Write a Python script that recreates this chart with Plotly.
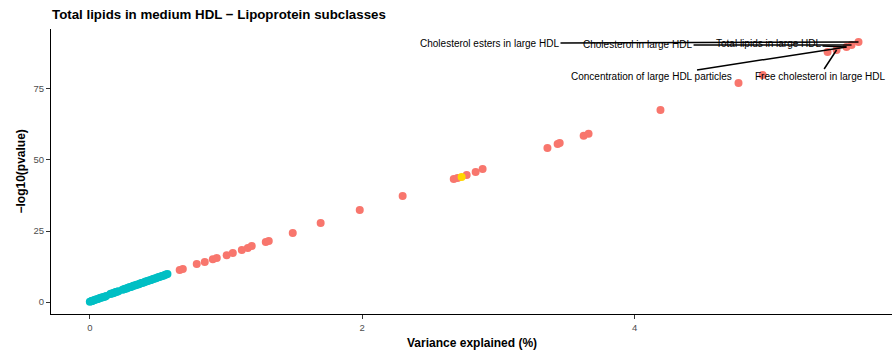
import plotly.graph_objects as go

# ---- data ----
teal_x = [0.00, 0.01, 0.015, 0.02, 0.03, 0.04, 0.05, 0.06, 0.07, 0.08, 0.09, 0.10, 0.11, 0.12,
          0.15, 0.16, 0.17, 0.18, 0.19, 0.20, 0.21,
          0.24, 0.25, 0.26, 0.27, 0.28, 0.29, 0.30, 0.31, 0.32, 0.33, 0.34, 0.35, 0.36, 0.37,
          0.38, 0.39, 0.40, 0.41, 0.42, 0.43, 0.44, 0.45, 0.46, 0.47, 0.48, 0.49, 0.50, 0.51,
          0.52, 0.53, 0.54, 0.55, 0.56, 0.57]
teal_y = [0.1, 0.3, 0.4, 0.5, 0.6, 0.8, 1.0, 1.1, 1.3, 1.5, 1.6, 1.8, 1.9, 2.1,
          2.8, 3.0, 3.1, 3.3, 3.5, 3.6, 3.8,
          4.3, 4.5, 4.7, 4.8, 5.0, 5.2, 5.3, 5.5, 5.7, 5.8, 6.0, 6.2, 6.3, 6.5,
          6.7, 6.8, 7.0, 7.2, 7.3, 7.5, 7.7, 7.8, 8.0, 8.2, 8.3, 8.5, 8.7, 8.8,
          9.0, 9.2, 9.3, 9.5, 9.7, 9.9]

red_x = [0.660, 0.683, 0.785, 0.844, 0.903, 0.932, 1.005, 1.050, 1.116, 1.160, 1.189, 1.292,
         1.314, 1.490, 1.695, 1.982, 2.297, 2.672, 2.700, 2.767, 2.833, 2.884, 3.360, 3.435,
         3.450, 3.626, 3.662, 4.190, 4.763, 4.940, 5.417, 5.483, 5.556, 5.593, 5.644]
red_y = [11.3, 11.6, 13.4, 14.1, 15.1, 15.5, 16.5, 17.3, 18.3, 19.0, 19.7, 21.1,
         21.5, 24.3, 27.8, 32.4, 37.3, 43.3, 43.7, 44.7, 45.8, 46.8, 54.2, 55.6,
         56.0, 58.5, 59.2, 67.6, 77.1, 79.9, 88.0, 88.7, 89.8, 90.5, 91.5]

focus_x = [2.730]
focus_y = [44.0]

label_names = ["Cholesterol esters in large HDL", "Cholesterol in large HDL",
               "Total lipids in large HDL", "Concentration of large HDL particles",
               "Free cholesterol in large HDL"]
label_x = [5.644, 5.593, 5.556, 5.556, 5.483]
label_y = [91.5, 90.5, 89.8, 89.8, 88.7]

x_ticks = [0, 2, 4]
y_ticks = [0, 25, 50, 75]

# ---- layout helpers (pixel offsets of labels from their points) ----
label_offsets = [(-369, 1), (-214, 0), (-78, -3), (-195, 30), (-17, 26)]

RED = "#F8766D"
TEAL = "#00BFC4"
GOLD = "#FFD700"
FONT = "Liberation Sans, Arial"

fig = go.Figure()
for xs, ys, col in [(teal_x, teal_y, TEAL), (red_x, red_y, RED), (focus_x, focus_y, GOLD)]:
    fig.add_trace(go.Scatter(x=xs, y=ys, mode="markers",
                             marker=dict(color=col, size=8, line=dict(width=0)),
                             showlegend=False, hoverinfo="x+y"))

for name, lx, ly, (ox, oy) in zip(label_names, label_x, label_y, label_offsets):
    fig.add_annotation(x=lx, y=ly, xref="x", yref="y", text=name,
                       showarrow=True, arrowhead=0, arrowwidth=1.5, arrowcolor="black",
                       ax=ox, ay=oy, standoff=0, startstandoff=0,
                       font=dict(family=FONT, size=10, color="black"))

# axis titles as paper annotations
fig.add_annotation(text="<b>Variance explained (%)</b>", xref="paper", yref="paper",
                   x=0.5, y=0, yshift=-29, xanchor="center", yanchor="middle", showarrow=False,
                   font=dict(family=FONT, size=12, color="black"))
fig.add_annotation(text="<b>\u2212log10(pvalue)</b>", xref="paper", yref="paper",
                   x=0, y=0.5, xshift=-31, xanchor="center", yanchor="middle", showarrow=False,
                   textangle=-90, font=dict(family=FONT, size=12, color="black"))

fig.update_layout(
    width=892, height=355,
    margin=dict(l=51, r=0, t=29, b=41, autoexpand=False),
    paper_bgcolor="white", plot_bgcolor="white",
    font=dict(family=FONT, color="black"),
    title=dict(text="<b>Total lipids in medium HDL \u2212 Lipoprotein subclasses</b>",
               x=52 / 892, xref="container", xanchor="left", y=1 - 14 / 355, yref="container",
               yanchor="middle", font=dict(size=13.3, color="black")),
)
common = dict(showgrid=False, zeroline=False, showline=True, linecolor="black", linewidth=1.2,
              ticks="outside", ticklen=4, tickcolor="#333333", tickwidth=1, automargin=False,
              tickfont=dict(family=FONT, size=9.5, color="#4D4D4D"))
fig.update_xaxes(range=[-0.285, 5.89], tickvals=x_ticks, ticktext=[str(v) for v in x_ticks], **common)
fig.update_yaxes(range=[-4.2, 96.1], tickvals=y_ticks, ticktext=[str(v) for v in y_ticks], **common)

fig.write_html("out.html", config={"displayModeBar": False},
               post_script="document.body.style.margin='0';document.body.style.padding='0';")
